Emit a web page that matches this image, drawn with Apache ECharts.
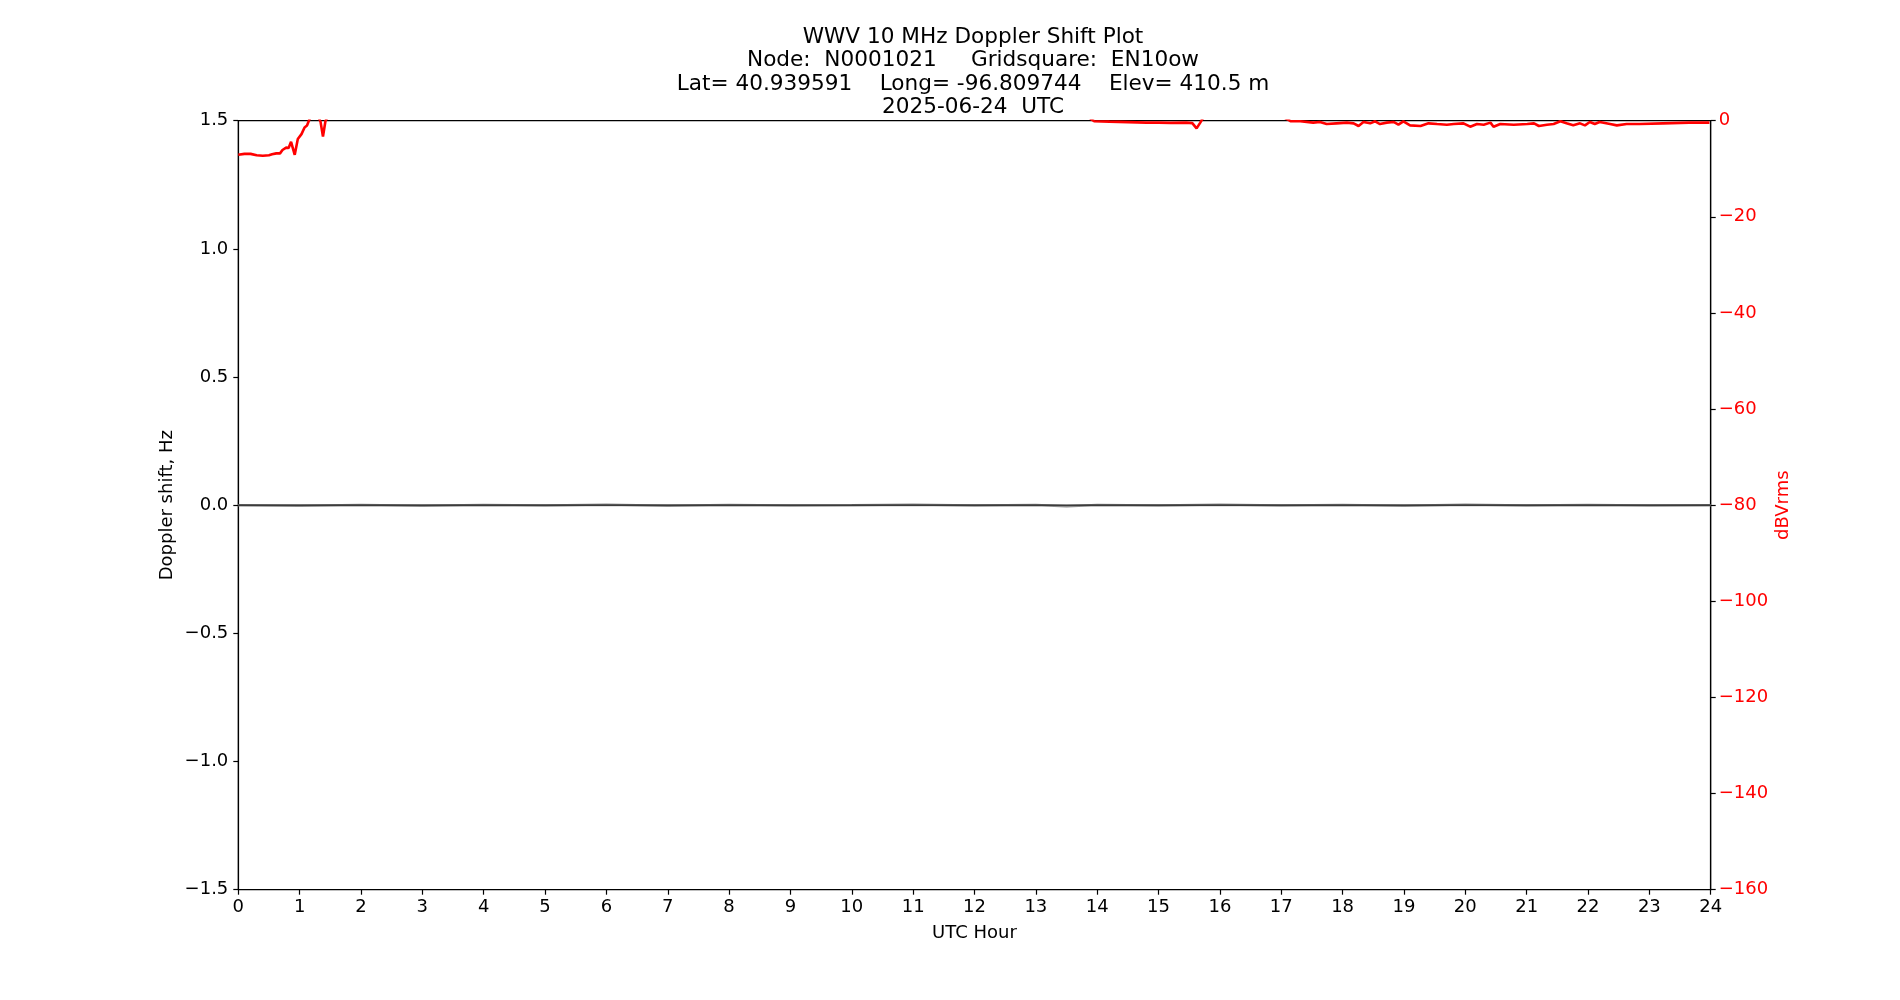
<!DOCTYPE html>
<html>
<head>
<meta charset="utf-8">
<script src="https://cdn.jsdelivr.net/npm/echarts@6/dist/echarts.min.js"></script>
<style>html,body{margin:0;padding:0;background:#fff}#c{width:1900px;height:1000px}</style>
</head>
<body>
<div id="c"></div>
<script>
var titleLines = ["WWV 10 MHz Doppler Shift Plot", "Node:  N0001021     Gridsquare:  EN10ow", "Lat= 40.939591    Long= -96.809744    Elev= 410.5 m", "2025-06-24  UTC"];
var xLabel = "UTC Hour";
var yLeftLabel = "Doppler shift, Hz";
var yRightLabel = "dBVrms";

// Red: signal level (dBVrms), [hour, value]
var powerHours = [0.00,0.10,0.20,0.30,0.40,0.50,0.55,0.62,0.68,0.72,0.78,0.82,0.86,0.92,0.97,1.03,1.08,1.12,1.16,1.22,1.30,1.34,1.38,1.42,1.48,2.0,3.0,4.0,5.0,6.0,7.0,8.0,9.0,10.0,11.0,12.0,13.0,13.8,13.9,13.95,14.2,14.5,14.8,15.0,15.2,15.45,15.55,15.62,15.68,15.72,16.0,16.5,17.0,17.1,17.15,17.31,17.52,17.63,17.74,17.90,18.07,18.18,18.26,18.34,18.45,18.53,18.61,18.72,18.83,18.91,18.99,19.10,19.27,19.40,19.54,19.70,19.81,19.97,20.08,20.19,20.30,20.41,20.46,20.57,20.79,21.01,21.12,21.20,21.33,21.44,21.55,21.65,21.76,21.87,21.95,22.03,22.11,22.19,22.36,22.47,22.63,22.84,23.22,23.65,23.98];
var powerValues = [-7.1,-6.9,-6.9,-7.2,-7.3,-7.2,-7.0,-6.8,-6.8,-6.1,-5.6,-5.7,-4.4,-7.1,-3.8,-2.8,-1.4,-1.0,0.3,2.0,1.0,-0.2,-3.3,-0.1,1.5,3,4,4,3,4,3,4,3,4,3,4,3,2,0.3,-0.1,-0.2,-0.3,-0.4,-0.4,-0.45,-0.4,-0.5,-1.6,-0.4,0.5,2,2,1,0.3,-0.1,-0.13,-0.4,-0.26,-0.69,-0.55,-0.4,-0.55,-1.1,-0.26,-0.55,-0.13,-0.69,-0.4,-0.26,-0.83,-0.13,-0.97,-1.1,-0.55,-0.69,-0.83,-0.69,-0.55,-1.25,-0.69,-0.83,-0.4,-1.25,-0.69,-0.83,-0.69,-0.55,-1.1,-0.83,-0.69,-0.13,-0.55,-0.97,-0.55,-0.97,-0.26,-0.69,-0.26,-0.69,-0.97,-0.69,-0.69,-0.55,-0.4,-0.4];

// Doppler shift (Hz): raw (grey) and smoothed (black)
var dopplerHours = [0,1,2,3,4,5,6,7,8,9,10,11,12,13,13.5,14,15,16,17,18,19,20,21,22,23,24];
var dopplerRaw = [0.000,-0.002,0.001,-0.002,0.001,-0.001,0.002,-0.002,0.001,-0.001,0.000,0.002,-0.001,0.001,-0.004,0.001,-0.001,0.002,-0.001,0.001,-0.002,0.002,-0.001,0.001,-0.001,0.000];
var dopplerSmooth = [0.000,0.000,0.000,0.000,0.000,0.000,0.000,0.000,0.000,0.000,0.000,0.000,0.000,0.000,0.000,0.000,0.000,0.000,0.000,0.000,0.000,0.000,0.000,0.000,0.000,0.000];

var xTicks = {min: 0, max: 24, interval: 1};
var yLeftTicks = {min: -1.5, max: 1.5, interval: 0.5};
var yRightTicks = {min: -160, max: 0, interval: 20};

function zip(a, b) { return a.map(function (v, i) { return [v, b[i]]; }); }
function mfmt(v, d) { var s = Math.abs(v).toFixed(d); return v < 0 ? '\u2212' + s : s; }

var FONT = 'DejaVu Sans';
var FS = 18;
var chart = echarts.init(document.getElementById('c'), null, {renderer: 'canvas'});
chart.setOption({
  backgroundColor: '#fff',
  animation: false,
  title: {
    text: titleLines.join('\n'),
    left: 968, top: 20.5, textAlign: 'center',
    textStyle: {fontFamily: FONT, fontSize: 21.6, fontWeight: 'normal', color: '#000', lineHeight: 23.4}
  },
  grid: {left: 238.3, right: 189.3, top: 120.7, bottom: 110.3, show: true, borderColor: '#000', borderWidth: 1.2, backgroundColor: 'transparent'},
  xAxis: {
    type: 'value', min: xTicks.min, max: xTicks.max, interval: xTicks.interval,
    name: xLabel, nameLocation: 'middle', nameGap: 35,
    nameTextStyle: {fontFamily: FONT, fontSize: FS, color: '#000'},
    axisLine: {show: true, onZero: false, lineStyle: {color: '#000', width: 1.2}},
    axisTick: {show: true, inside: false, length: 5, lineStyle: {color: '#000', width: 1.2}},
    axisLabel: {fontFamily: FONT, fontSize: FS, color: '#000', margin: 9},
    splitLine: {show: false}
  },
  yAxis: [{
    type: 'value', position: 'left', min: yLeftTicks.min, max: yLeftTicks.max, interval: yLeftTicks.interval,
    name: yLeftLabel, nameLocation: 'middle', nameGap: 62, nameRotate: 90, nameMoveOverlap: false,
    nameTextStyle: {fontFamily: FONT, fontSize: FS, color: '#000'},
    axisLine: {show: true, onZero: false, lineStyle: {color: '#000', width: 1.2}},
    axisTick: {show: true, inside: false, length: 5, lineStyle: {color: '#000', width: 1.2}},
    axisLabel: {fontFamily: FONT, fontSize: FS, color: '#000', margin: 10, formatter: function (v) { return mfmt(v, 1); }},
    splitLine: {show: false}
  }, {
    type: 'value', position: 'right', min: yRightTicks.min, max: yRightTicks.max, interval: yRightTicks.interval,
    name: yRightLabel, nameLocation: 'middle', nameGap: 64, nameRotate: 90, nameMoveOverlap: false,
    nameTextStyle: {fontFamily: FONT, fontSize: FS, color: '#ff0000'},
    axisLine: {show: true, onZero: false, lineStyle: {color: '#000', width: 1.2}},
    axisTick: {show: true, inside: false, length: 5, lineStyle: {color: '#000', width: 1.2}},
    axisLabel: {fontFamily: FONT, fontSize: FS, color: '#ff0000', margin: 8, formatter: function (v) { return mfmt(v, 0); }},
    splitLine: {show: false}
  }],
  series: [{
    type: 'line', yAxisIndex: 0, data: zip(dopplerHours, dopplerRaw),
    showSymbol: false, symbol: 'none', smooth: false, clip: true,
    lineStyle: {color: '#8c8c8c', width: 2.5}
  }, {
    type: 'line', yAxisIndex: 0, data: zip(dopplerHours, dopplerSmooth),
    showSymbol: false, symbol: 'none', clip: true,
    lineStyle: {color: '#222', width: 1.3}
  }, {
    type: 'line', yAxisIndex: 1, data: zip(powerHours, powerValues),
    showSymbol: false, symbol: 'none', clip: true,
    lineStyle: {color: '#ff0000', width: 2.6}
  }]
});
</script>
</body>
</html>
